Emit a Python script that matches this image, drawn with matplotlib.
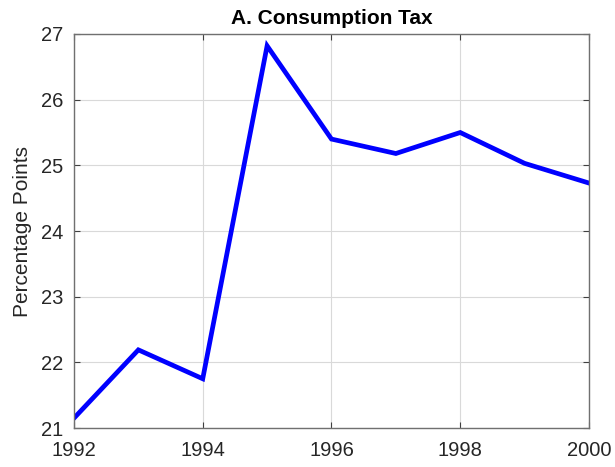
import matplotlib
matplotlib.use("Agg")
import matplotlib.pyplot as plt

# -----------------------------
# DATA
# -----------------------------
years = [1992, 1993, 1994, 1995, 1996, 1997, 1998, 1999, 2000]
tax = [21.15, 22.19, 21.75, 26.82, 25.40, 25.18, 25.50, 25.03, 24.73]

x_ticks = [1992, 1994, 1996, 1998, 2000]
y_ticks = [21, 22, 23, 24, 25, 26, 27]

plt.rcParams['font.family'] = ['Liberation Sans', 'DejaVu Sans']

fig = plt.figure(figsize=(6.15, 4.67), dpi=100)
ax = fig.add_axes([0.1203, 0.0835, 0.8374, 0.8437])

ax.plot(years, tax, color='#0000ff', linewidth=3.4, solid_joinstyle='miter')

ax.set_xlim(1992, 2000)
ax.set_ylim(21, 27)
ax.set_xticks(x_ticks)
ax.set_yticks(y_ticks)
ax.grid(True, color='#d9d9d9', linewidth=0.8)
ax.set_axisbelow(True)

for s in ax.spines.values():
    s.set_color('#707070')
    s.set_linewidth(1.0)

ax.tick_params(direction='in', top=True, right=True, length=4,
               color='#404040', labelsize=14.5, labelcolor='#262626')
ax.tick_params(axis='x', pad=9)
ax.tick_params(axis='y', pad=7.5)

ax.set_ylabel("Percentage Points", fontsize=15, color='#262626')
ax.yaxis.set_label_coords(-0.082, 0.5)
ax.set_title("A. Consumption Tax", fontsize=15, fontweight='bold', pad=7)

fig.savefig("out.png", dpi=100)
